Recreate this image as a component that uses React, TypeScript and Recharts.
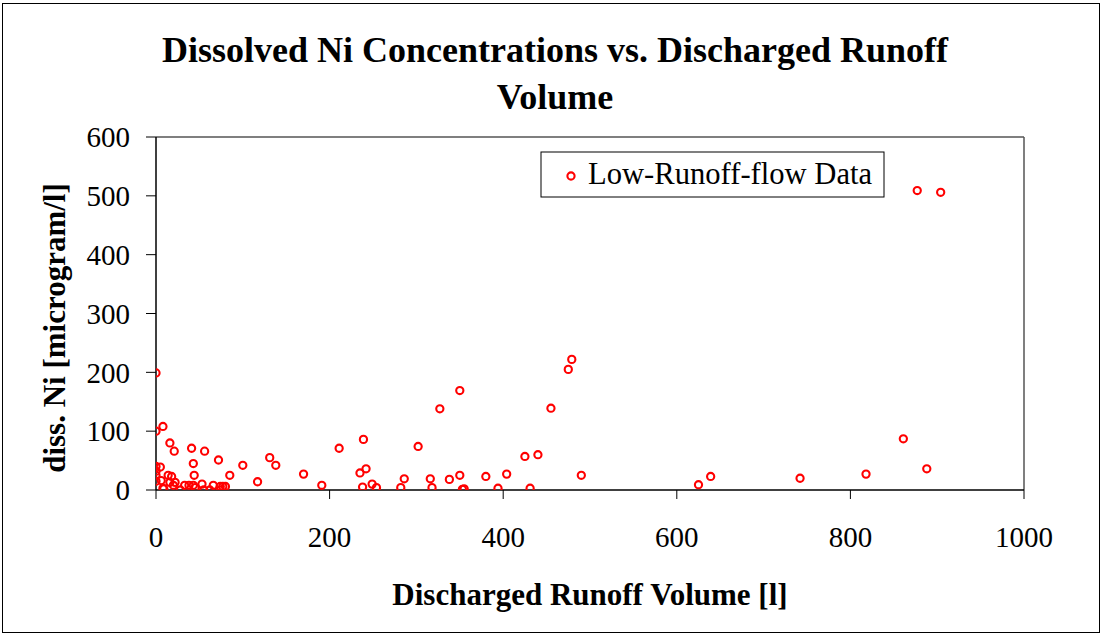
import React from 'react';
import {
  ScatterChart,
  Scatter,
  XAxis,
  YAxis,
  ReferenceLine
} from 'recharts';

// values
const runoffVolume = [
  0, 0, 8, 16, 21, 41, 56, 72, 43, 0,
  5, 0, 0, 0, 6, 14, 18, 16, 22, 20,
  8, 9, 28, 33, 38, 43, 44, 45, 53, 55,
  62, 66, 74, 74, 77, 80, 85, 100, 117, 131,
  138, 170, 191, 211, 239, 235, 242, 238, 249, 254,
  282, 286, 302, 316, 318, 327, 338, 350, 350, 353,
  355, 380, 394, 404, 425, 440, 431, 455, 475, 479,
  490, 625, 639, 742, 818, 861, 888, 877, 904
];
const dissNi = [
  199, 100, 108, 80, 66, 71, 66, 51, 45, 40,
  39, 32, 25, 15, 16, 25, 23, 13, 13, 8,
  3, 2, 0, 8, 8, 8, 25, 4, 10, 0,
  0, 8, 0, 6, 6, 6, 25, 42, 14, 55,
  42, 27, 8, 71, 86, 29, 36, 5, 10, 4,
  4, 19, 74, 19, 4, 138, 18, 169, 25, 1,
  2, 23, 3, 27, 57, 60, 3, 139, 205, 222,
  25, 9, 23, 20, 27, 87, 36, 509, 506
];
const xTicks = [0, 200, 400, 600, 800, 1000];
const yTicks = [0, 100, 200, 300, 400, 500, 600];

const seriesName = 'Low-Runoff-flow Data';
const chartTitle = ['Dissolved Ni Concentrations vs. Discharged Runoff', 'Volume'];
const xLabel = 'Discharged Runoff Volume [l]';
const yLabel = 'diss. Ni [microgram/l]';

const data = runoffVolume.map((v, i) => ({ volume: v, ni: dissNi[i] }));

const FONT = '"Liberation Serif", "Times New Roman", serif';

// hollow red circle like Excel's marker
const RingMarker = (props: any) => {
  const { cx, cy } = props;
  if (cx == null || cy == null) return null;
  return <circle cx={cx} cy={cy} r={3.6} fill="none" stroke="#ff0000" strokeWidth={2.1} />;
};

const App = () => {
  const tickStyle = { fontSize: 29, fontFamily: FONT, fill: '#000' };

  return (
    <div style={{ position: 'absolute', left: 0, top: 0, width: 1104, height: 637, background: '#fff' }}>
      <div
        style={{
          position: 'absolute',
          left: 2,
          top: 3,
          width: 1098,
          height: 630,
          border: '1px solid #000',
          boxSizing: 'border-box'
        }}
      />
      <div style={{ position: 'absolute', left: 0, top: 0 }}>
        <ScatterChart width={1104} height={637} margin={{ top: 137, right: 80, bottom: 0, left: 0 }}>
          <XAxis
            type="number"
            dataKey="volume"
            domain={[0, 1000]}
            ticks={xTicks}
            height={147}
            tick={tickStyle}
            tickSize={9}
            tickMargin={27}
            axisLine={{ stroke: '#000', strokeWidth: 1.5 }}
            tickLine={{ stroke: '#000' }}
            allowDataOverflow
          />
          <YAxis
            type="number"
            dataKey="ni"
            domain={[0, 600]}
            ticks={yTicks}
            width={156}
            tick={tickStyle}
            tickSize={10}
            tickMargin={16}
            axisLine={{ stroke: '#000', strokeWidth: 1.5 }}
            tickLine={{ stroke: '#000' }}
            allowDataOverflow
          />
          <ReferenceLine y={600} stroke="#555" strokeWidth={1.5} ifOverflow="visible" />
          <ReferenceLine x={1000} stroke="#555" strokeWidth={1.5} ifOverflow="visible" />
          <Scatter
            name={seriesName}
            data={data}
            shape={<RingMarker />}
            isAnimationActive={false}
          />
        </ScatterChart>
      </div>

      {/* title, axis titles and legend */}
      <svg
        width={1104}
        height={637}
        style={{ position: 'absolute', left: 0, top: 0, pointerEvents: 'none' }}
      >
        <text x={555} y={62} textAnchor="middle" fontFamily={FONT} fontWeight="bold" fontSize={36} fill="#000">
          {chartTitle[0]}
        </text>
        <text x={555} y={109} textAnchor="middle" fontFamily={FONT} fontWeight="bold" fontSize={36} fill="#000">
          {chartTitle[1]}
        </text>
        <text x={590} y={605} textAnchor="middle" fontFamily={FONT} fontWeight="bold" fontSize={31} fill="#000">
          {xLabel}
        </text>
        <text
          x={65}
          y={328}
          transform="rotate(-90 65 328)"
          textAnchor="middle"
          fontFamily={FONT}
          fontWeight="bold"
          fontSize={31}
          fill="#000"
        >
          {yLabel}
        </text>
        <rect x={541} y={152} width={343} height={45} fill="#fff" stroke="#000" strokeWidth={1} />
        <circle cx={571} cy={176} r={3.6} fill="none" stroke="#ff0000" strokeWidth={2.1} />
        <text x={588} y={184} fontFamily={FONT} fontSize={30.6} fill="#000">
          {seriesName}
        </text>
      </svg>
    </div>
  );
};

export default App;
